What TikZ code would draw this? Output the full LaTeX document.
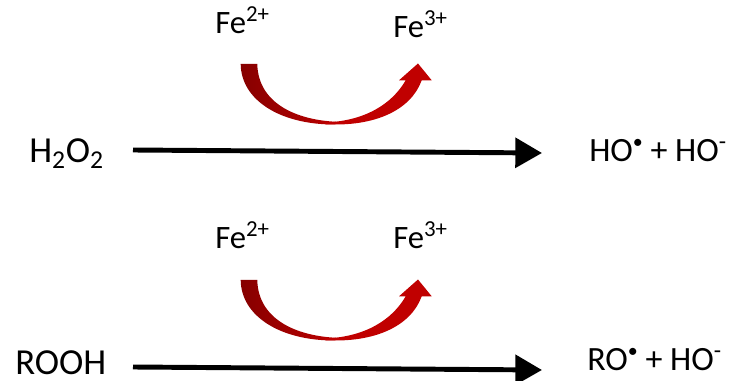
\documentclass[tikz,border=0pt]{standalone}
\usepackage{fontspec}
\setmainfont{Carlito}
\usetikzlibrary{positioning,arrows.meta}
\definecolor{ink}{HTML}{000000}
\definecolor{cred}{HTML}{C00000}
\definecolor{cdark}{HTML}{860000}
\tikzset{
  lbl/.style={font=\fontsize{24.5pt}{28pt}\selectfont, text=ink, inner sep=0pt, anchor=base west},
  prod/.style={lbl, font=\fontsize{25.5pt}{28pt}\selectfont},
  subst/.style={lbl, font=\fontsize{27.5pt}{30pt}\selectfont},
  react/.style={-{Triangle[length=20pt,width=22pt]}, line width=3.7pt, draw=ink},
  bendfront/.style={fill=cred, draw=none},
  bendback/.style={left color=cdark, right color=cred, draw=none},
}
\newcommand{\dotsup}{\raisebox{10pt}{\fontsize{15pt}{15pt}\selectfont\textbullet}}
% ribbon arrow, second argument is the vertical offset in pixels
\newcommand{\ribbon}[1]{
  \begin{scope}[shift={(0,#1)}]
    \shade[bendback] (240.7,64) .. controls (241,100) and (280,124.5) .. (334,124.5)
      -- (345,122) .. controls (298,122) and (258,104) .. (257.3,64) -- cycle;
    \fill[bendfront] (325,124.2) .. controls (375,127) and (411,110) .. (421.7,80.3)
      -- (431.7,80.3) -- (418,63.5) -- (399,80.3) -- (405.7,80.3)
      .. controls (392,104) and (365,121) .. (325,122.5) -- cycle;
  \end{scope}
}
\begin{document}
\begin{tikzpicture}[x=0.75pt,y=-0.75pt]
  \useasboundingbox (0,0) rectangle (733,381);
  % upper reaction
  \node[lbl] (fe2a) at (215,34) {Fe\textsuperscript{2+}};
  \node[lbl] (fe3a) at (393,38) {Fe\textsuperscript{3+}};
  \ribbon{0}
  \node[subst] (perox) at (29,163) {H\textsubscript{2}O\textsubscript{2}};
  \node[prod] (proda) at (589,162) {HO\dotsup{} + HO\textsuperscript{-}};
  \coordinate (sa) at (133,150);
  \coordinate (ea) at (542,153);
  \draw[react] (sa) -- (ea);
  % lower reaction
  \node[lbl] (fe2b) at (215,249) {Fe\textsuperscript{2+}};
  \node[lbl] (fe3b) at (393,249) {Fe\textsuperscript{3+}};
  \ribbon{216}
  \node[subst] (rooh) at (15,375) {ROOH};
  \node[prod] (prodb) at (587,371) {RO\dotsup{} + HO\textsuperscript{-}};
  \coordinate (sb) at (133,367);
  \coordinate (eb) at (542,370);
  \draw[react] (sb) -- (eb);
\end{tikzpicture}
\end{document}
